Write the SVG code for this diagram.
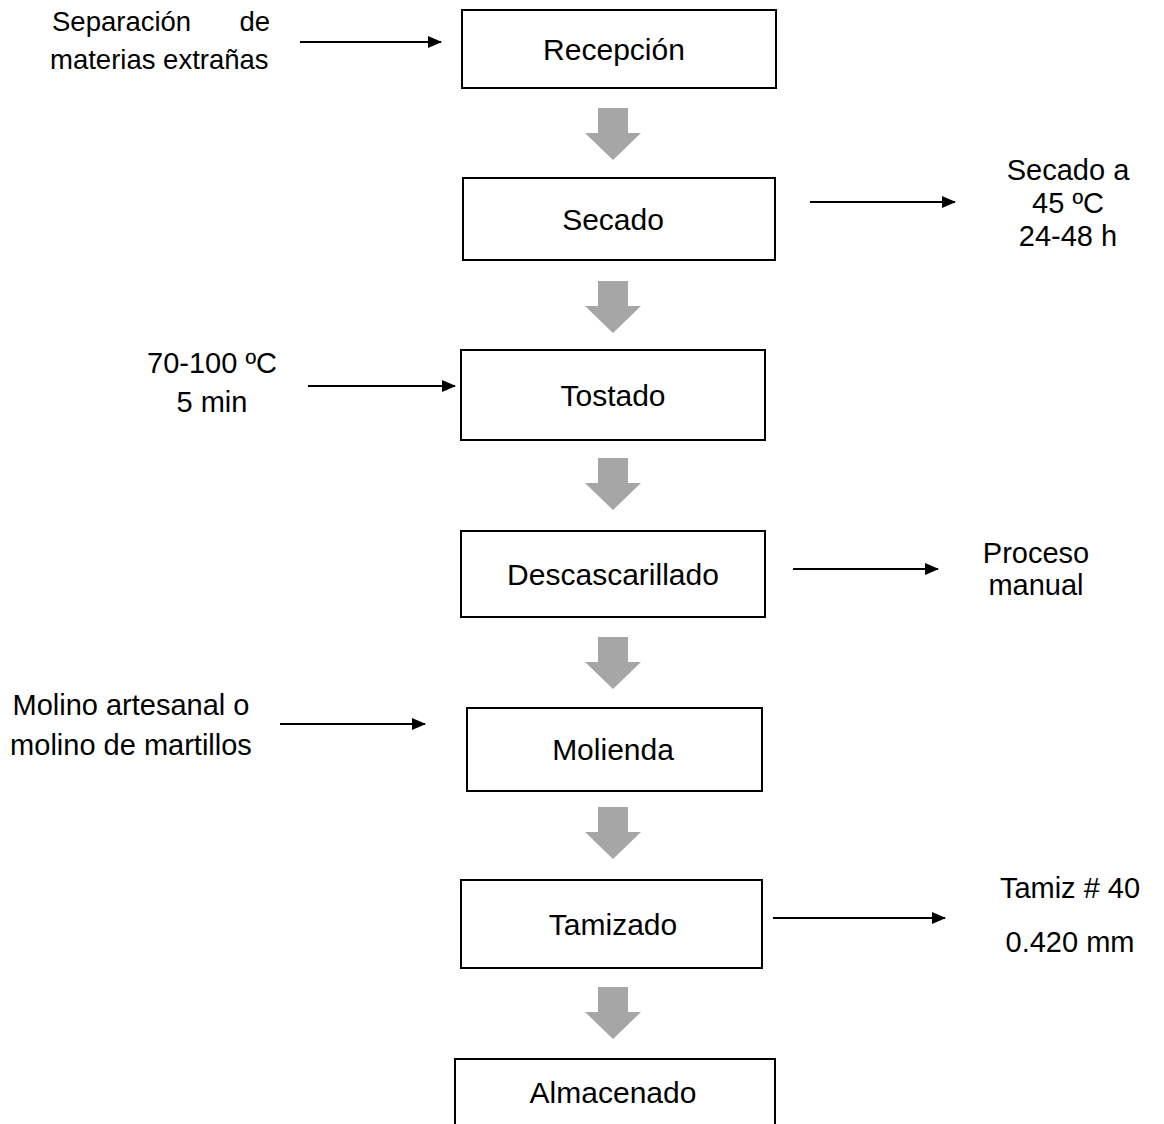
<svg xmlns="http://www.w3.org/2000/svg" width="1164" height="1124" viewBox="0 0 1164 1124">
<defs>
<marker id="ah" markerWidth="14" markerHeight="14" refX="13" refY="7" orient="auto" markerUnits="userSpaceOnUse" viewBox="0 0 14 14"><path d="M0,1 L14,7 L0,13 z" fill="#000"/></marker>
<path id="down" d="M-15,0 H15 V25 H28 L0,52 L-28,25 H-15 z" fill="#a6a6a6"/>
</defs>
<style>
.box{fill:#fff;stroke:#000;stroke-width:2}
text{font-family:"Liberation Sans",Arial,sans-serif;font-size:29px;fill:#000}
.b{font-size:30px}
.s{font-size:27.5px}
.c{text-anchor:middle}
.ln{stroke:#000;stroke-width:2;fill:none;marker-end:url(#ah)}
</style>
<rect width="1164" height="1124" fill="#fff"/>
<g id="connectors">
<line class="ln" x1="300" y1="42" x2="441" y2="42"/>
<line class="ln" x1="810" y1="202" x2="955" y2="202"/>
<line class="ln" x1="308" y1="386" x2="455" y2="386"/>
<line class="ln" x1="793" y1="569" x2="938" y2="569"/>
<line class="ln" x1="280" y1="724" x2="425" y2="724"/>
<line class="ln" x1="773" y1="918" x2="945" y2="918"/>
<use href="#down" x="613" y="108"/>
<use href="#down" x="613" y="281"/>
<use href="#down" x="613" y="458"/>
<use href="#down" x="613" y="637"/>
<use href="#down" x="613" y="807"/>
<use href="#down" x="613" y="987"/>
</g>
<g id="recepcion"><rect class="box" x="462" y="10" width="314" height="78"/><text class="c b" x="614" y="60">Recepción</text></g>
<g id="secado"><rect class="box" x="463" y="178" width="312" height="82"/><text class="c b" x="613" y="230">Secado</text></g>
<g id="tostado"><rect class="box" x="461" y="350" width="304" height="90"/><text class="c b" x="613" y="406">Tostado</text></g>
<g id="descascarillado"><rect class="box" x="461" y="531" width="304" height="86"/><text class="c b" x="613" y="585">Descascarillado</text></g>
<g id="molienda"><rect class="box" x="467" y="708" width="295" height="83"/><text class="c b" x="613" y="760">Molienda</text></g>
<g id="tamizado"><rect class="box" x="461" y="880" width="301" height="88"/><text class="c b" x="613" y="935">Tamizado</text></g>
<g id="almacenado"><rect class="box" x="455" y="1059" width="320" height="80"/><text class="c b" x="613" y="1103">Almacenado</text></g>
<g id="note-separacion"><text class="s" x="52" y="31">Separación</text><text class="s" x="270" y="31" text-anchor="end">de</text><text class="s" x="50" y="69">materias extrañas</text></g>
<g id="note-secado"><text class="c" x="1068" y="180">Secado a</text><text class="c" x="1068" y="213">45 ºC</text><text class="c" x="1068" y="246">24-48 h</text></g>
<g id="note-tostado"><text class="c" x="212" y="373">70-100 ºC</text><text class="c" x="212" y="412">5 min</text></g>
<g id="note-descascarillado"><text class="c" x="1036" y="563">Proceso</text><text class="c" x="1036" y="595">manual</text></g>
<g id="note-molienda"><text class="c" x="131" y="715">Molino artesanal o</text><text class="c" x="131" y="755">molino de martillos</text></g>
<g id="note-tamizado"><text class="c" x="1070" y="898">Tamiz # 40</text><text class="c" x="1070" y="952">0.420 mm</text></g>
</svg>
